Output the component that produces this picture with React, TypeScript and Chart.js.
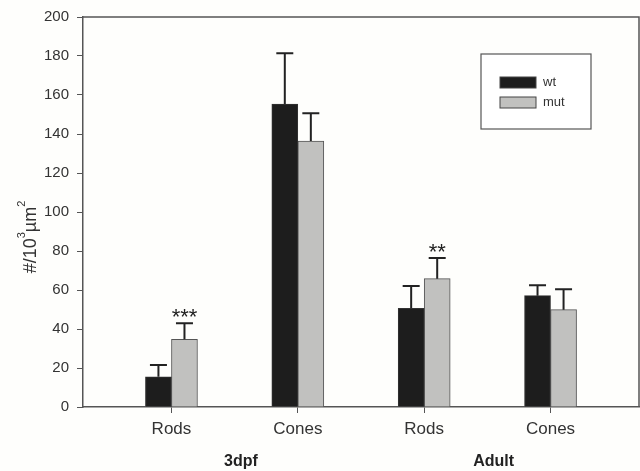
import React, { useEffect, useRef } from "react";
import { Chart, registerables } from "chart.js";

Chart.register(...registerables);

const categories = ["Rods", "Cones", "Rods", "Cones"];
const groups = ["3dpf", "Adult"];
const wtValues = [15.5, 155.4, 50.6, 57.1];
const wtErrors = [6, 26, 11.5, 5.3];
const mutValues = [34.7, 136.4, 65.8, 49.9];
const mutErrors = [8.2, 14.2, 10.6, 10.5];
const mutStars = ["***", "", "**", ""];
const yTicks = [0, 20, 40, 60, 80, 100, 120, 140, 160, 180, 200];
const yTitleParts = [
  { text: "#/10", sup: false },
  { text: "3", sup: true },
  { text: "µm", sup: false },
  { text: "2", sup: true },
];

const BAR_HALF = 0.103; // half of bar width in category units (bars touch at tick)

const FONT = "'Liberation Sans', Arial, sans-serif";
const WT_COLOR = "#1d1d1d";
const MUT_COLOR = "#c1c1bf";
const LINE = "#555555";

const extrasPlugin = {
  id: "extras",
  afterDatasetsDraw(chart: any) {
    const { ctx, chartArea, scales } = chart;
    const x = scales.x;
    const y = scales.y;
    ctx.save();
    // error bars
    const drawErr = (xv: number, v: number, e: number) => {
      const px = x.getPixelForValue(xv);
      const top = y.getPixelForValue(v + e);
      const base = y.getPixelForValue(v);
      ctx.strokeStyle = "#222";
      ctx.lineWidth = 2;
      ctx.beginPath();
      ctx.moveTo(px, base);
      ctx.lineTo(px, top);
      ctx.moveTo(px - 8.5, top);
      ctx.lineTo(px + 8.5, top);
      ctx.stroke();
    };
    categories.forEach((_, i) => {
      drawErr(i - BAR_HALF, wtValues[i], wtErrors[i]);
      drawErr(i + BAR_HALF, mutValues[i], mutErrors[i]);
      if (mutStars[i]) {
        ctx.fillStyle = "#222";
        ctx.font = `22px ${FONT}`;
        ctx.textAlign = "center";
        ctx.textBaseline = "alphabetic";
        const py = y.getPixelForValue(mutValues[i] + mutErrors[i]);
        ctx.fillText(mutStars[i], x.getPixelForValue(i + BAR_HALF), py + 1);
      }
    });
    // frame top and right
    ctx.strokeStyle = LINE;
    ctx.lineWidth = 1.5;
    ctx.beginPath();
    ctx.moveTo(chartArea.left, chartArea.top);
    ctx.lineTo(chartArea.right, chartArea.top);
    ctx.lineTo(chartArea.right, chartArea.bottom);
    ctx.stroke();
    // group labels
    ctx.fillStyle = "#222";
    ctx.font = `bold 16px ${FONT}`;
    ctx.textAlign = "center";
    ctx.textBaseline = "middle";
    groups.forEach((g, gi) => {
      const px = x.getPixelForValue(gi * 2 + 0.55);
      ctx.fillText(g, px, 462);
    });
    // y title with superscripts
    ctx.save();
    ctx.translate(36, (chartArea.top + chartArea.bottom) / 2 + 25);
    ctx.rotate(-Math.PI / 2);
    ctx.fillStyle = "#333";
    ctx.textAlign = "left";
    ctx.textBaseline = "alphabetic";
    const mainF = `18px ${FONT}`;
    const supF = `11px ${FONT}`;
    let total = 0;
    yTitleParts.forEach((p) => {
      ctx.font = p.sup ? supF : mainF;
      total += ctx.measureText(p.text).width;
    });
    let cx = -total / 2;
    yTitleParts.forEach((p) => {
      ctx.font = p.sup ? supF : mainF;
      ctx.fillText(p.text, cx, p.sup ? -11 : 0);
      cx += ctx.measureText(p.text).width;
    });
    ctx.restore();
    // legend
    const lx = 481, ly = 54, lw = 110, lh = 75;
    ctx.fillStyle = "#ffffff";
    ctx.fillRect(lx, ly, lw, lh);
    ctx.strokeStyle = LINE;
    ctx.lineWidth = 1.2;
    ctx.strokeRect(lx, ly, lw, lh);
    const items = [
      { label: chart.data.datasets[0].label, color: WT_COLOR },
      { label: chart.data.datasets[1].label, color: MUT_COLOR },
    ];
    items.forEach((it, k) => {
      const sy = 77 + k * 20;
      ctx.fillStyle = it.color;
      ctx.fillRect(500, sy, 36, 11);
      ctx.strokeStyle = "#444";
      ctx.lineWidth = 1;
      ctx.strokeRect(500, sy, 36, 11);
      ctx.fillStyle = "#333";
      ctx.font = `13px ${FONT}`;
      ctx.textAlign = "left";
      ctx.textBaseline = "middle";
      ctx.fillText(it.label, 543, sy + 5);
    });
    ctx.restore();
  },
};

export default function App() {
  const ref = useRef<HTMLCanvasElement>(null);
  useEffect(() => {
    if (!ref.current) return;
    const chart = new Chart(ref.current, {
      type: "bar",
      data: {
        datasets: [
          {
            label: "wt",
            data: wtValues.map((v, i) => ({ x: i - BAR_HALF, y: v })),
            backgroundColor: WT_COLOR,
            borderColor: "#333",
            borderWidth: 1,
            barThickness: 26,
            grouped: false,
          } as any,
          {
            label: "mut",
            data: mutValues.map((v, i) => ({ x: i + BAR_HALF, y: v })),
            backgroundColor: MUT_COLOR,
            borderColor: "#555",
            borderWidth: 1,
            barThickness: 26,
            grouped: false,
          } as any,
        ],
      },
      options: {
        animation: false,
        responsive: false,
        layout: { padding: { top: 17, right: 1, left: 0, bottom: 0 } },
        plugins: { legend: { display: false }, tooltip: { enabled: false } },
        scales: {
          x: {
            type: "linear",
            min: -0.7,
            max: 3.7,
            offset: false,
            afterBuildTicks: (s: any) => {
              s.ticks = categories.map((_, i) => ({ value: i }));
            },
            afterFit: (s: any) => {
              s.height = 64;
            },
            grid: { offset: false, drawOnChartArea: false, tickLength: 6, color: LINE, lineWidth: 1 },
            border: { color: LINE, width: 1.5 },
            ticks: {
              color: "#333",
              font: { family: FONT, size: 17 },
              padding: 6,
              autoSkip: false,
              maxRotation: 0,
              callback: (v: any) => categories[Math.round(Number(v))] ?? "",
            },
          },
          y: {
            min: 0,
            max: 200,
            afterBuildTicks: (s: any) => {
              s.ticks = yTicks.map((v) => ({ value: v }));
            },
            afterFit: (s: any) => {
              s.width = 83;
            },
            grid: { drawOnChartArea: false, tickLength: 6, color: LINE, lineWidth: 1 },
            border: { color: LINE, width: 1.5 },
            ticks: {
              color: "#333",
              font: { family: FONT, size: 15 },
              padding: 8,
            },
          },
        },
      },
      plugins: [extrasPlugin],
    });
    return () => chart.destroy();
  }, []);
  return (
    <div style={{ position: "fixed", left: 0, top: 0, width: 640, height: 471, background: "#fefefc" }}>
      <canvas ref={ref} width={640} height={471} style={{ width: 640, height: 471 }} />
    </div>
  );
}
